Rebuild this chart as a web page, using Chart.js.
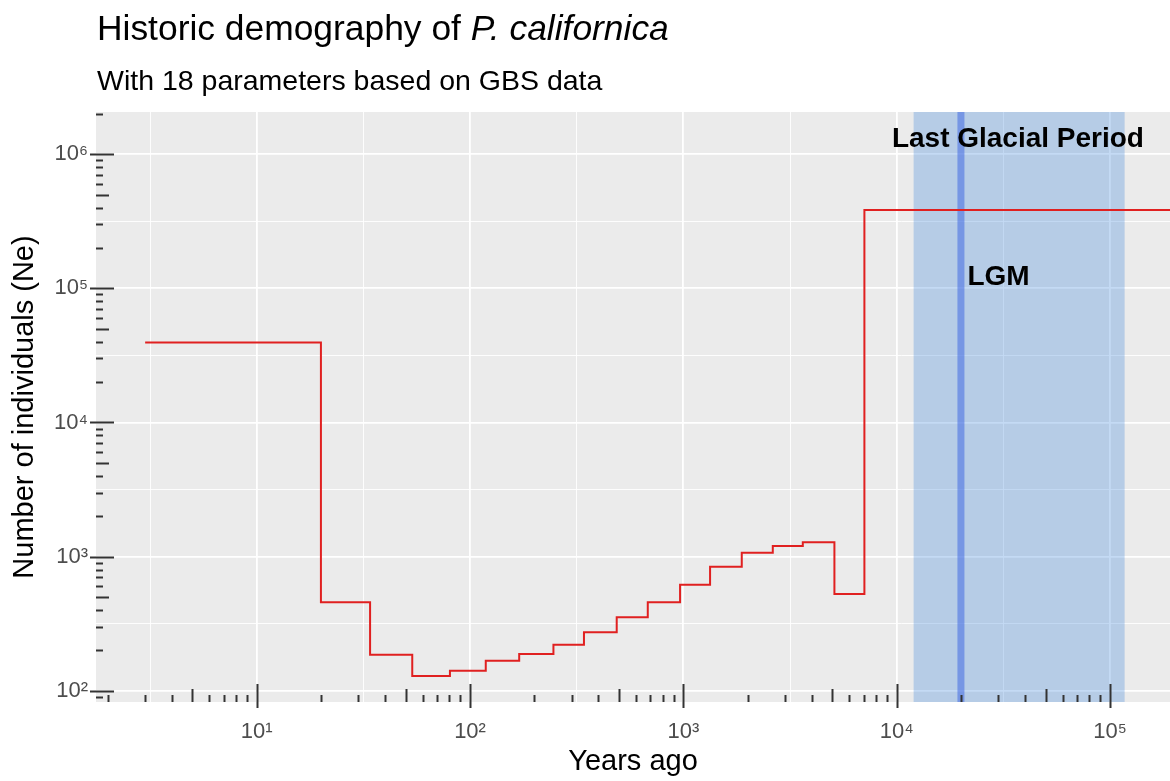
<!DOCTYPE html>
<html lang="en">
<head>
<meta charset="UTF-8">
<title>Historic demography of P. californica</title>
<style>
  body { margin: 0; background: #fff; font-family: "Liberation Sans", Arial, sans-serif; }
  #wrap { position: relative; width: 1170px; height: 781px; }
  canvas { position: absolute; left: 0; top: 0; }
  #title { position: absolute; left: 97px; top: 11px; font-size: 35.4px; line-height: 35px; color: #000; white-space: nowrap; }
  #subtitle { position: absolute; left: 97px; top: 66px; font-size: 28.5px; line-height: 28px; color: #000; white-space: nowrap; }
</style>
</head>
<body>
<div id="wrap">
  <canvas id="chart" width="1170" height="781"></canvas>
  <div id="title">Historic demography of <i>P. californica</i></div>
  <div id="subtitle">With 18 parameters based on GBS data</div>
</div>

<script src="https://cdn.jsdelivr.net/npm/chart.js"></script>
<script>
    // 18 epochs: start (years ago) and effective size Ne
    const epochStart = [3, 20, 34, 53.6, 80.5, 118.5, 170, 246, 342, 487, 681, 965, 1334, 1878, 2625, 3629, 5105, 7056];
    const neValues = [39400, 457, 186, 129, 141, 168, 188, 221, 273, 353, 457, 617, 842, 1071, 1202, 1280, 527, 383000];
    const lastEpochEnd = 1e6;

    // axis ranges and major tick labels
    const xRange = [1.765, 1.91e5];
    const yRange = [82.6, 2.06e6];
    const majorExponents = [1, 2, 3, 4, 5, 6];
    const supDigits = ['⁰', '¹', '²', '³', '⁴', '⁵', '⁶', '⁷', '⁸', '⁹'];

    // shaded period and LGM line
    const glacialPeriod = [12000, 117000];
    const lgmYear = 20000;
    const labelTexts = ['Last Glacial Period', 'LGM'];
    const labelX = [37000, 30000];
    const labelY = [1.3e6, 1.2e5];

    const FONT = '"Liberation Sans", Arial, sans-serif';

    function isMajor(v) {
        const l = Math.log10(v);
        return Math.abs(l - Math.round(l)) < 1e-6;
    }

    function halfDecadeTicks(scale) {
        const vals = [];
        for (let e = -1; e <= 14; e++) {
            const v = Math.pow(10, e / 2);
            if (v >= scale.min && v <= scale.max) vals.push({ value: v });
        }
        scale.ticks = vals;
    }

    function powerLabel(value) {
        if (!isMajor(value)) return '';
        const e = Math.round(Math.log10(value));
        if (majorExponents.indexOf(e) < 0) return '';
        return '10' + supDigits[e];
    }

    const points = epochStart.map((t, i) => ({ x: t, y: neValues[i] }));
    points.push({ x: lastEpochEnd, y: neValues[neValues.length - 1] });

    const backdrop = {
        id: 'backdrop',
        beforeDraw(chart) {
            const { ctx, chartArea: a } = chart;
            ctx.save();
            ctx.fillStyle = '#EBEBEB';
            ctx.fillRect(a.left, a.top, a.right - a.left, a.bottom - a.top);
            ctx.restore();
        },
        beforeDatasetsDraw(chart) {
            const { ctx, chartArea: a, scales } = chart;
            const x0 = scales.x.getPixelForValue(glacialPeriod[0]);
            const x1 = scales.x.getPixelForValue(glacialPeriod[1]);
            const xl = scales.x.getPixelForValue(lgmYear);
            ctx.save();
            ctx.beginPath();
            ctx.rect(a.left, a.top, a.right - a.left, a.bottom - a.top);
            ctx.clip();
            ctx.fillStyle = 'rgba(58,132,218,0.3)';
            ctx.fillRect(x0, a.top, x1 - x0, a.bottom - a.top);
            ctx.strokeStyle = 'rgba(65,105,225,0.55)';
            ctx.lineWidth = 7;
            ctx.beginPath();
            ctx.moveTo(xl, a.top);
            ctx.lineTo(xl, a.bottom);
            ctx.stroke();
            ctx.restore();
        }
    };

    // log ticks along bottom and left edges of the panel
    const logTicks = {
        id: 'logTicks',
        afterDatasetsDraw(chart) {
            const { ctx, chartArea: a, scales } = chart;
            ctx.save();
            ctx.strokeStyle = '#333333';
            ctx.lineWidth = 2;
            for (let d = 0; d <= 6; d++) {
                for (let m = 1; m <= 9; m++) {
                    const v = m * Math.pow(10, d);
                    const len = m === 1 ? 18 : (m === 5 ? 13 : 7);
                    const out = m === 1 ? 6 : 0;
                    if (v >= xRange[0] && v <= xRange[1]) {
                        const px = Math.round(scales.x.getPixelForValue(v)) + 0.5;
                        ctx.beginPath();
                        ctx.moveTo(px, a.bottom + out);
                        ctx.lineTo(px, a.bottom - len);
                        ctx.stroke();
                    }
                    if (v >= yRange[0] && v <= yRange[1]) {
                        const py = Math.round(scales.y.getPixelForValue(v)) + 0.5;
                        ctx.beginPath();
                        ctx.moveTo(a.left - out, py);
                        ctx.lineTo(a.left + len, py);
                        ctx.stroke();
                    }
                }
            }
            ctx.restore();
        },
        afterDraw(chart) {
            const { ctx, scales } = chart;
            ctx.save();
            ctx.fillStyle = '#000';
            ctx.font = 'bold 28px ' + FONT;
            ctx.textAlign = 'center';
            ctx.textBaseline = 'middle';
            labelTexts.forEach((t, i) => {
                ctx.fillText(t, scales.x.getPixelForValue(labelX[i]), scales.y.getPixelForValue(labelY[i]));
            });
            ctx.restore();
        }
    };

    const myChart = new Chart(document.getElementById('chart'), {
        type: 'line',
        data: {
            datasets: [{
                label: 'Ne',
                data: points,
                stepped: 'before',
                borderColor: '#e02020',
                borderWidth: 2,
                pointRadius: 0,
                fill: false
            }]
        },
        options: {
            responsive: false,
            animation: false,
            devicePixelRatio: 1,
            layout: { padding: { top: 112, right: 0, bottom: 0, left: 0 } },
            plugins: {
                legend: { display: false },
                tooltip: { enabled: false }
            },
            scales: {
                x: {
                    type: 'logarithmic',
                    min: xRange[0],
                    max: xRange[1],
                    afterBuildTicks: halfDecadeTicks,
                    afterFit: function(scale) { scale.height = 79; },
                    grid: {
                        color: '#ffffff',
                        lineWidth: ctx => (ctx.tick && isMajor(ctx.tick.value)) ? 1.8 : 0.9,
                        drawTicks: false
                    },
                    border: { display: false },
                    ticks: {
                        autoSkip: false,
                        maxRotation: 0,
                        color: '#4D4D4D',
                        font: { family: FONT, size: 22, lineHeight: 1 },
                        padding: 19,
                        callback: powerLabel
                    },
                    title: {
                        display: true,
                        text: 'Years ago',
                        color: '#000',
                        font: { family: FONT, size: 29, lineHeight: 1.2 },
                        padding: { top: 0, bottom: 2 }
                    }
                },
                y: {
                    type: 'logarithmic',
                    min: yRange[0],
                    max: yRange[1],
                    afterBuildTicks: halfDecadeTicks,
                    afterFit: function(scale) { scale.width = 96; },
                    grid: {
                        color: '#ffffff',
                        lineWidth: ctx => (ctx.tick && isMajor(ctx.tick.value)) ? 1.8 : 0.9,
                        drawTicks: false
                    },
                    border: { display: false },
                    ticks: {
                        autoSkip: false,
                        color: '#4D4D4D',
                        font: { family: FONT, size: 22, lineHeight: 1 },
                        padding: 8,
                        callback: powerLabel
                    },
                    title: {
                        display: true,
                        text: 'Number of individuals (Ne)',
                        color: '#000',
                        font: { family: FONT, size: 29, lineHeight: 1.2 },
                        padding: { top: 8, bottom: 0 }
                    }
                }
            }
        },
        plugins: [backdrop, logTicks]
    });
</script>
</body>
</html>
